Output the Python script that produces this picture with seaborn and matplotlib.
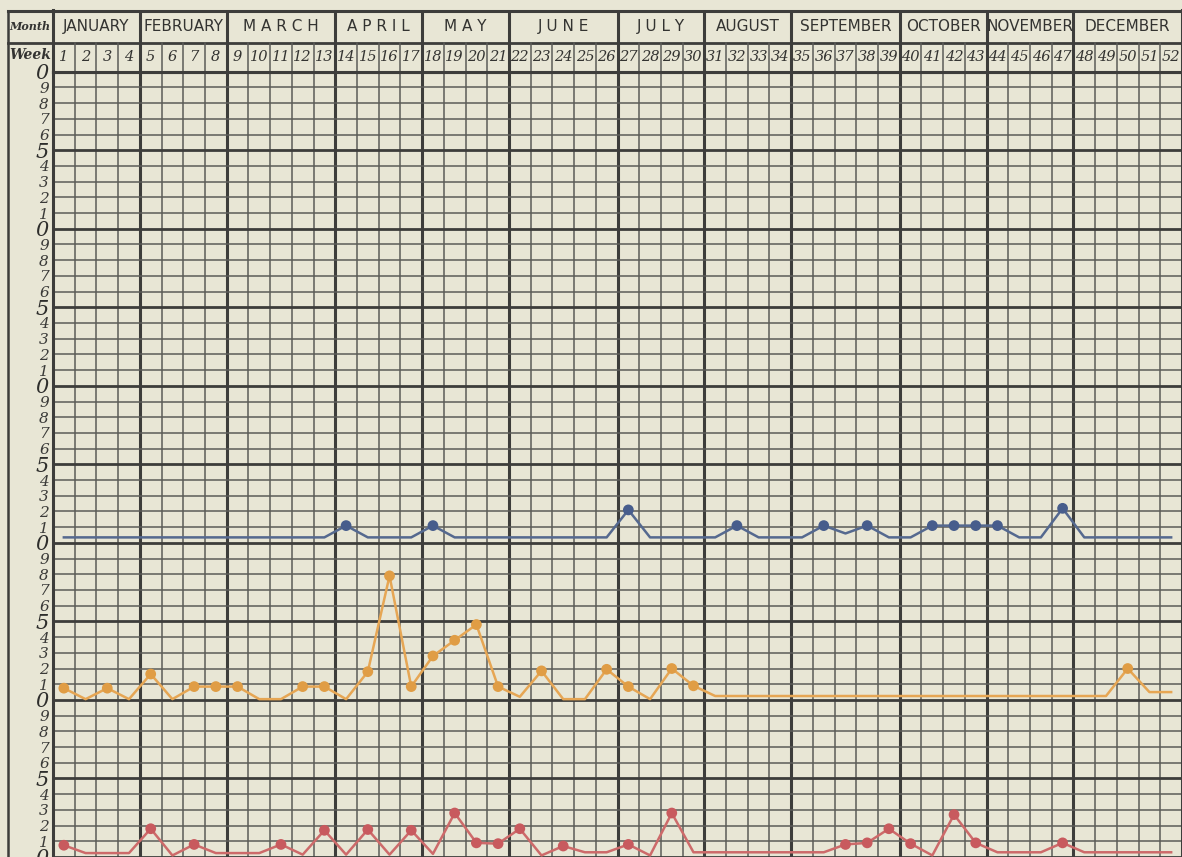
import numpy as np
import pandas as pd
import matplotlib
matplotlib.use("Agg")
import matplotlib.pyplot as plt
import seaborn as sns
from matplotlib.lines import Line2D

# ---------------- data ----------------
months = ["JANUARY", "FEBRUARY", "M A R C H", "A P R I L", "M A Y", "J U N E",
          "J U L Y", "AUGUST", "SEPTEMBER", "OCTOBER", "NOVEMBER", "DECEMBER"]
weeks_per_month = [4, 4, 5, 4, 4, 5, 4, 4, 5, 4, 4, 5]
weeks = list(range(1, 53))

# values above each series' own baseline
blue_values = ([0.35] * 13 + [1.1] + [0.35] * 3 + [1.1] + [0.35] * 8 + [2.1]
               + [0.35] * 4 + [1.1] + [0.35] * 3 + [1.1, 0.6, 1.1] + [0.35] * 2
               + [1.1] * 4 + [0.35] * 2 + [2.2] + [0.35] * 5)
orange_values = ([0.75, 0.05, 0.75, 0.05, 1.65, 0.05, 0.85, 0.85, 0.85, 0.05,
                  0.05, 0.85, 0.85, 0.05, 1.8, 7.9, 0.85, 2.8, 3.8, 4.8,
                  0.85, 0.2, 1.85, 0.05, 0.05, 1.95, 0.85, 0.05, 2.0, 0.9]
                 + [0.25] * 19 + [2.0, 0.5, 0.5])
red_values = ([0.75, 0.25, 0.25, 0.25, 1.8, 0.1, 0.8, 0.25, 0.25, 0.25,
               0.8, 0.15, 1.7, 0.15, 1.75, 0.15, 1.7, 0.2, 2.8, 0.9,
               0.85, 1.8, 0.1, 0.7, 0.3, 0.3, 0.8, 0.1, 2.8]
              + [0.3] * 7 + [0.8, 0.9, 1.8, 0.85, 0.1, 2.7, 0.9]
              + [0.3] * 3 + [0.9] + [0.3] * 5)
baselines = {"blue": 20, "orange": 10, "red": 0}

y_max = 50

# ---------------- style ----------------
W, H = 1182, 857
paper = "#e8e6d5"
ink = "#3d3d3b"
thin_ink = "#5c5c58"
line_colors = {"blue": "#55698f", "orange": "#e6a654", "red": "#cd6a6a"}
dot_colors = {"blue": "#475d8c", "orange": "#e09d45", "red": "#c85a5e"}

fig = plt.figure(figsize=(W / 100, H / 100), dpi=100, facecolor=paper)

top_grid = 71.7
ax = fig.add_axes([53 / W, 0, (W - 53) / W, (H - top_grid) / H])
ax.set_facecolor(paper)
ax.set_xlim(0.5, 52.5)
ax.set_ylim(0, y_max)

# month boundaries / week boundaries
bounds = np.cumsum([0] + weeks_per_month) + 0.5
month_b = bounds[1:-1]
week_b = [b + 0.5 for b in range(1, 52) if (b + 0.5) not in set(month_b)]
ax.set_xticks(month_b)
ax.set_xticks(week_b, minor=True)
ax.tick_params(axis="x", which="both", length=0, labelbottom=False)

fives = list(range(0, y_max + 1, 5))
others = [v for v in range(0, y_max + 1) if v % 5]
ax.set_yticks(fives, labels=[str(v % 10) for v in fives], fontsize=15,
              fontstyle="italic", fontfamily="DejaVu Serif", color="#2e2e2c")
ax.set_yticks(others, labels=[str(v % 10) for v in others], minor=True,
              fontsize=11, fontstyle="italic", fontfamily="DejaVu Serif", color="#3a3a38")
ax.tick_params(axis="y", which="both", length=0, pad=3)

ax.grid(which="major", axis="x", color=ink, lw=2.2)
ax.grid(which="minor", axis="x", color=thin_ink, lw=1.1)
ax.grid(which="major", axis="y", color=ink, lw=2.0)
ax.grid(which="minor", axis="y", color=thin_ink, lw=1.1)
ax.set_axisbelow(True)
for s in ["left", "top", "right"]:
    ax.spines[s].set_color(ink)
    ax.spines[s].set_linewidth(2.2)
ax.spines["bottom"].set_visible(False)

# ---------------- series ----------------
series = {"blue": blue_values, "orange": orange_values, "red": red_values}
for name, vals in series.items():
    df = pd.DataFrame({"week": weeks, "value": np.array(vals) + baselines[name]})
    sns.lineplot(data=df, x="week", y="value", ax=ax, color=line_colors[name],
                 lw=1.8, zorder=3)
    dots = df[np.array(vals) >= 0.7]
    sns.scatterplot(data=dots, x="week", y="value", ax=ax, color=dot_colors[name],
                    s=60, edgecolor="none", zorder=4)
ax.set_xlabel("")
ax.set_ylabel("")

# ---------------- header ----------------
top_frame = 10.5
mid_sep = 42.7
hh = top_grid - top_frame
axh = fig.add_axes([53 / W, (H - top_grid) / H, (W - 53) / W, hh / H])
axh.set_facecolor(paper)
axh.set_xlim(0.5, 52.5)
axh.set_ylim(0, hh)
axh.set_xticks([])
axh.set_yticks([])
for s in ["left", "top", "right", "bottom"]:
    axh.spines[s].set_color(ink)
    axh.spines[s].set_linewidth(2.2)
week_row = top_grid - mid_sep
axh.axhline(week_row, color=ink, lw=2.0)
for b in month_b:
    axh.axvline(b, color=ink, lw=2.2)
for b in week_b:
    axh.plot([b, b], [0, week_row], color=thin_ink, lw=1.1)
for i, m in enumerate(months):
    cx = (bounds[i] + bounds[i + 1]) / 2
    axh.text(cx, week_row + (hh - week_row) / 2, m, ha="center", va="center",
             fontsize=11, fontfamily="DejaVu Sans", color="#333331")
for w in weeks:
    axh.text(w, week_row / 2, str(w), ha="center", va="center", fontsize=10.5,
             fontstyle="italic", fontfamily="DejaVu Serif", color="#333331")

# ---------------- label column frame ----------------
fig.add_artist(Line2D([8 / W, 8 / W], [0, 1 - top_frame / H], color=ink, lw=1.8))
fig.add_artist(Line2D([8 / W, 53 / W], [1 - top_frame / H] * 2, color=ink, lw=2.2))
fig.add_artist(Line2D([8 / W, 53 / W], [1 - mid_sep / H] * 2, color=ink, lw=2.0))
fig.text(30 / W, 1 - 26 / H, "Month", ha="center", va="center", fontsize=8,
         fontstyle="italic", fontweight="bold", fontfamily="DejaVu Serif", color="#333331")
fig.text(30 / W, 1 - 55 / H, "Week", ha="center", va="center", fontsize=10,
         fontstyle="italic", fontweight="bold", fontfamily="DejaVu Serif", color="#333331")

fig.savefig("out.png", dpi=100, facecolor=paper)
